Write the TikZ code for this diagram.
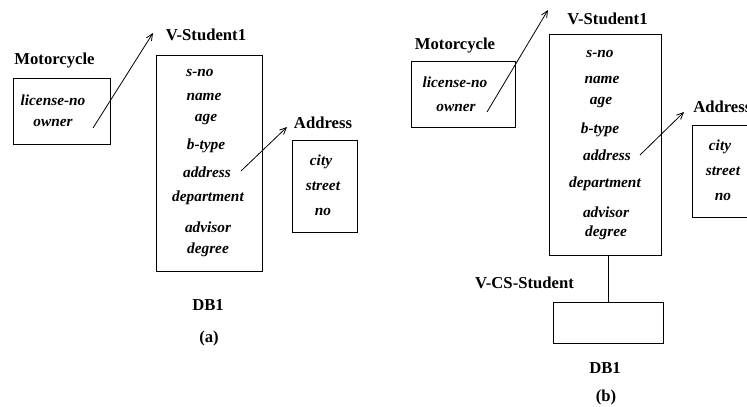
\documentclass[tikz,border=0pt]{standalone}
\usepackage{fontspec}
\setmainfont{Liberation Serif}
\usetikzlibrary{arrows.meta}

\begin{document}
\begin{tikzpicture}[x=0.75pt,y=0.75pt,yscale=-1,
  lbl/.style={font=\fontsize{12.5}{14}\selectfont\bfseries},
  attr/.style={font=\fontsize{11.5}{13}\selectfont\bfseries\itshape},
  box/.style={draw,line width=0.6pt,inner sep=0pt},
  link/.style={-{Straight Barb[length=5pt,width=4.5pt]},line width=0.6pt}]
\useasboundingbox (0,0) rectangle (747,407);
\clip (0,0) rectangle (747,407);

%%% (a)
%Shape: Rectangle [Motorcycle]
\node (motA) [box,minimum width=72.75pt,minimum height=49.5pt] at (61.5,111) {};
%Shape: Rectangle [V-Student1]
\node (vsA) [box,minimum width=79.5pt,minimum height=162pt] at (209,163) {};
%Shape: Rectangle [Address]
\node (adA) [box,minimum width=48.75pt,minimum height=69pt] at (324.5,186) {};

% Text Node
\node (motAl) [lbl] at (54.5,61) {Motorcycle};
\node (vsAl) [lbl] at (206,35) {V-Student1};
\node (adAl) [lbl] at (323,123) {Address};
\node (dbA) [lbl] at (208,305) {DB1};
\node (capA) [lbl] at (209,338) {(a)};

% Text Node
\node (licA) [attr] at (53,100) {license-no};
\node (ownA) [attr] at (53,123) {owner};
\node (snoA) [attr] at (200,73) {s-no};
\node (namA) [attr] at (204,97) {name};
\node (ageA) [attr] at (206,120) {age};
\node (btyA) [attr] at (206,146) {b-type};
\node (addrA) [attr] at (207,172) {address};
\node (depA) [attr] at (208,198) {department};
\node (advA) [attr] at (208,227) {advisor};
\node (degA) [attr] at (208,250) {degree};
\node (cityA) [attr] at (321,162) {city};
\node (strA) [attr] at (323,186) {street};
\node (noA) [attr] at (323,212) {no};

%Straight Lines [owner -> V-Student1]
\coordinate (ownAo) at (93,128);
\coordinate (vsAi) at (153,33);
\draw [link] (ownAo) -- (vsAi);
%Straight Lines [address -> Address]
\coordinate (addrAo) at (241,171);
\coordinate (adAi) at (287,127);
\draw [link] (addrAo) -- (adAi);

%%% (b)
%Shape: Rectangle [Motorcycle]
\node (motB) [box,minimum width=78pt,minimum height=49.5pt] at (463,94) {};
%Shape: Rectangle [V-Student1]
\node (vsB) [box,minimum width=84pt,minimum height=165.75pt] at (605,144.5) {};
%Shape: Rectangle [Address]
\node (adB) [box,minimum width=48.75pt,minimum height=69pt] at (724.5,171) {};
%Shape: Rectangle [V-CS-Student]
\node (csB) [box,minimum width=82.5pt,minimum height=30.75pt] at (608,322.5) {};

% Text Node
\node (motBl) [lbl] at (455,46) {Motorcycle};
\node (vsBl) [lbl] at (607.5,19) {V-Student1};
\node (adBl) [lbl,anchor=west,inner sep=0pt] at (693,107) {Address};
\node (csBl) [lbl] at (524.5,283) {V-CS-Student};
\node (dbB) [lbl] at (605,368) {DB1};
\node (capB) [lbl] at (606,397) {(b)};

% Text Node
\node (licB) [attr] at (455,82) {license-no};
\node (ownB) [attr] at (456,108) {owner};
\node (snoB) [attr] at (600,54) {s-no};
\node (namB) [attr] at (602,80) {name};
\node (ageB) [attr] at (601,103) {age};
\node (btyB) [attr] at (600,130) {b-type};
\node (addrB) [attr] at (607,155) {address};
\node (depB) [attr] at (605,184) {department};
\node (advB) [attr] at (606,212) {advisor};
\node (degB) [attr] at (606,233) {degree};
\node (cityB) [attr] at (720,147) {city};
\node (strB) [attr] at (723,171) {street};
\node (noB) [attr] at (723,197) {no};

%Straight Lines [owner -> V-Student1]
\coordinate (ownBo) at (487,112);
\coordinate (vsBi) at (548,10);
\draw [link] (ownBo) -- (vsBi);
%Straight Lines [address -> Address]
\coordinate (addrBo) at (640,155);
\coordinate (adBi) at (684,112);
\draw [link] (addrBo) -- (adBi);
%Straight Lines [V-Student1 -- V-CS-Student]
\draw [line width=0.6pt] (csB.north |- vsB.south) -- (csB.north);

\end{tikzpicture}
\end{document}
